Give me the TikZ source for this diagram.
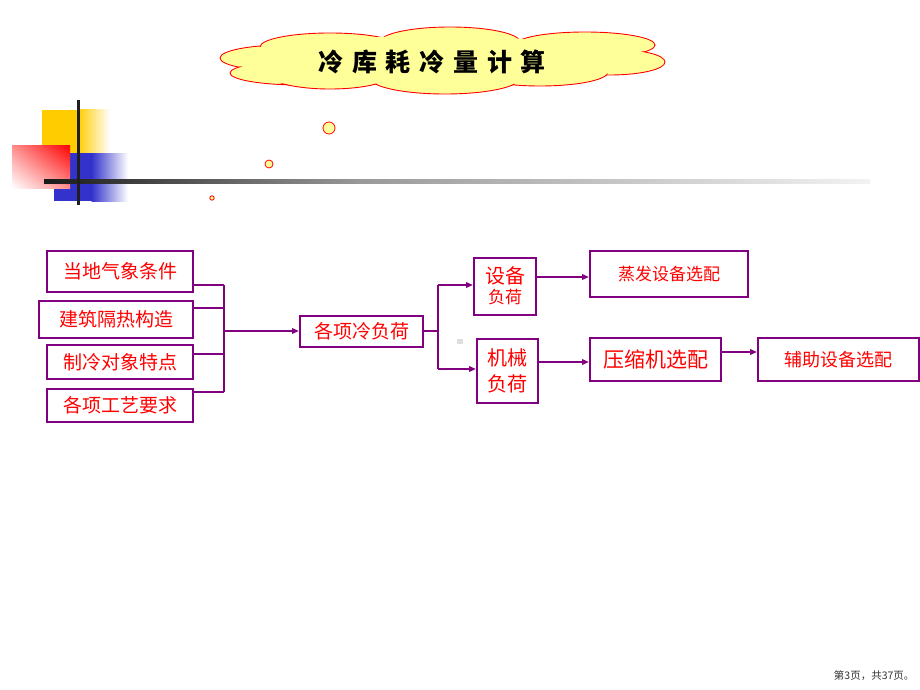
\documentclass[tikz,border=0pt]{standalone}
\usepackage{fontspec}
\newfontfamily\cjk{Noto Sans CJK SC}
\newfontfamily\cjktitle[LetterSpace=35]{Noto Sans CJK SC}
\usetikzlibrary{arrows.meta,shadings}
\definecolor{boxpurple}{RGB}{128,0,128}
\definecolor{cloudyellow}{RGB}{255,255,153}
\definecolor{decoyellow}{RGB}{255,204,0}
\definecolor{decoblue}{RGB}{51,51,204}
\tikzset{
  box/.style={draw=boxpurple, line width=2pt, inner sep=0pt, text=red, font=\cjk\fontsize{19}{21}\selectfont, align=center},
  ln/.style={draw=boxpurple, line width=2pt},
  arr/.style={ln, -{Triangle[length=7pt,width=5.5pt]}},
  dot/.style={draw=red, fill=cloudyellow, line width=0.8pt},
}
\begin{document}
\begin{tikzpicture}[x=1pt,y=-1pt]
\useasboundingbox (0,0) rectangle (920,690);
\fill[white] (0,0) rectangle (920,690);
% decoration
\fill[decoyellow] (42,110) rectangle (78,153);
\shade[left color=decoyellow, right color=white] (77.5,110) rectangle (110,153);
\fill[decoblue] (54,153) rectangle (92,201);
\shade[left color=decoblue, right color=white] (91.5,153) rectangle (128,201);
\shade[shading=bilinear interpolation, upper left=red!45, upper right=red, lower left=white, lower right=red!45] (12,145) rectangle (70,188);
\shade[left color=black!90, right color=black!40] (44,179.5) rectangle (360,183);
\shade[left color=black!40, right color=black!5] (359.5,179.5) rectangle (870,183);
\draw[black!88, line width=3pt] (78,100) -- (78,205);
% dots
\draw[dot] (329,128) circle (6);
\draw[dot] (269,164) circle (4);
\draw[dot] (212,198) circle (2.2);
% cloud
\foreach \cx/\cy/\rx/\ry in {285/58/65/13, 300/73/70/12, 330/47/70/14, 450/42/70/15, 585/45/70/13, 610/62/55/13, 540/72/68/14, 445/78/75/16, 330/75/60/14}
  \draw[red, fill=cloudyellow, line width=0.9pt] (\cx,\cy) ellipse [x radius=\rx, y radius=\ry];
\foreach \cx/\cy/\rx/\ry in {285/58/65/13, 300/73/70/12, 330/47/70/14, 450/42/70/15, 585/45/70/13, 610/62/55/13, 540/72/68/14, 445/78/75/16, 330/75/60/14}
  \fill[cloudyellow] (\cx,\cy) ellipse [x radius=\rx-1.3, y radius=\ry-1.3];
\fill[cloudyellow] (440,60) ellipse [x radius=150, y radius=25];
\node (title) at (432,62) {\cjktitle\bfseries\fontsize{25}{27}\selectfont 冷库耗冷量计算};
% boxes
\node[box, minimum width=146pt, minimum height=41pt] (b1) at (120,271.5) {当地气象条件};
\node[box, minimum width=154pt, minimum height=37pt] (b2) at (116,319.5) {建筑隔热构造};
\node[box, minimum width=146pt, minimum height=34pt] (b3) at (120,362) {制冷对象特点};
\node[box, minimum width=146pt, minimum height=33pt] (b4) at (120,405.5) {各项工艺要求};
\node[box, minimum width=123pt, minimum height=31pt] (lh) at (361.5,331) {各项冷负荷};
\node[box, minimum width=62pt, minimum height=57pt, font=\cjk] (sb) at (505,286) {\fontsize{20}{23}\selectfont 设备\\[3pt]\fontsize{17}{21}\selectfont 负荷};
\node[box, minimum width=61pt, minimum height=64pt, font=\cjk\fontsize{20}{26}\selectfont] (jx) at (507.5,371) {机械\\负荷};
\node[box, minimum width=158pt, minimum height=46pt, font=\cjk\fontsize{17}{20}\selectfont] (ev) at (669,274) {蒸发设备选配};
\node[box, minimum width=131pt, minimum height=43pt, font=\cjk\fontsize{21}{24}\selectfont] (ys) at (655.5,359.5) {压缩机选配};
\node[box, minimum width=161pt, minimum height=43pt, font=\cjk\fontsize{18}{21}\selectfont] (fz) at (838.5,359.5) {辅助设备选配};
% bracket
\coordinate (k1) at (224,285);
\coordinate (k2) at (224,308);
\coordinate (k3) at (224,354);
\coordinate (k4) at (224,392);
\coordinate (kc) at (224,331);
\draw[ln] (b1.east |- k1) -- (k1);
\draw[ln] (b2.east |- k2) -- (k2);
\draw[ln] (b3.east |- k3) -- (k3);
\draw[ln] (b4.east |- k4) -- (k4);
\draw[ln] (k1) -- (k4);
\draw[arr] (kc) -- (lh.west);
% branch
\coordinate (br) at (438,331);
\coordinate (br1) at (438,285);
\coordinate (br2) at (438,369);
\draw[ln] (lh.east) -- (br);
\draw[ln] (br1) -- (br2);
\draw[arr] (br1) -- (sb.west |- br1);
\draw[arr] (br2) -- (jx.west |- br2);
\draw[arr] (sb.east |- 0,277) -- (ev.west |- 0,277);
\draw[arr] (jx.east |- 0,362) -- (ys.west |- 0,362);
\draw[arr] ([yshift=7.5pt]ys.east) -- ([yshift=7.5pt]fz.west);
% small grey mark
\fill[black!13] (457,339) rectangle (463,344);
% footer
\node[text=black!80, font=\cjk\fontsize{10.5}{12}\selectfont, anchor=east] (foot) at (918,676) {第3页，共37页。};
\end{tikzpicture}
\end{document}
